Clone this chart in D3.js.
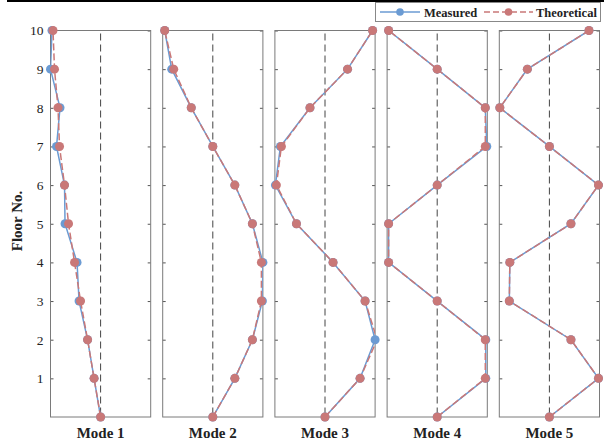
<!DOCTYPE html>
<html><head><meta charset="utf-8">
<script src="https://cdn.jsdelivr.net/npm/d3@7"></script>
<style>body{margin:0;background:#fff}svg{display:block}</style>
</head><body><svg id="c" width="604" height="441"></svg>
<script>
const floors = [0,1,2,3,4,5,6,7,8,9,10];
const modes = ["Mode 1","Mode 2","Mode 3","Mode 4","Mode 5"];
const yTicks = [1,2,3,4,5,6,7,8,9,10];
// values listed from floor 0 to floor 10
const measured = [
  [0,-0.13,-0.26,-0.43,-0.47,-0.71,-0.72,-0.88,-0.81,-1.0,-0.97],
  [0,0.44,0.79,0.99,1.0,0.79,0.44,0,-0.43,-0.82,-0.96],
  [0,0.70,1.0,0.80,0.16,-0.57,-0.99,-0.89,-0.30,0.45,0.95],
  [0,0.97,0.97,0,-0.97,-0.97,0,0.99,0.96,0,-0.97],
  [0,0.98,0.43,-0.80,-0.79,0.43,0.98,0,-0.99,-0.44,0.79]
];
const theoretical = [
  [0,-0.13,-0.26,-0.40,-0.52,-0.64,-0.72,-0.82,-0.85,-0.92,-0.95],
  [0,0.44,0.79,0.97,0.97,0.79,0.44,0,-0.43,-0.78,-0.96],
  [0,0.70,1.04,0.80,0.16,-0.57,-0.97,-0.87,-0.30,0.45,0.95],
  [0,0.96,0.96,0,-0.97,-0.97,0,0.96,0.96,0,-0.97],
  [0,0.98,0.43,-0.80,-0.79,0.43,0.98,0,-0.99,-0.44,0.79]
];
const seriesNames = ["Measured","Theoretical"];
const colors = {Measured:"#6b9bd3", Theoretical:"#c97878"};

const svg = d3.select("#c");
const serif = "'Liberation Serif','Times New Roman',serif";
svg.append("rect").attr("x",7).attr("y",0).attr("width",597).attr("height",2).attr("fill","#000");

const plotTop = 30.5, plotBottom = 417;
const y = d3.scaleLinear().domain([0,10]).range([plotBottom, plotTop]);
const panelX = d3.scaleBand().domain(modes).range([50.5, 599.5]).paddingInner(0.107);

modes.forEach((m, i) => {
  const x0 = panelX(m), w = panelX.bandwidth();
  const x = d3.scaleLinear().domain([-1,1]).range([x0, x0 + w]);
  const g = svg.append("g");
  const cid = "clip" + i;
  svg.append("clipPath").attr("id", cid).append("rect")
    .attr("x", x0).attr("y", plotTop).attr("width", w).attr("height", plotBottom - plotTop);

  const left = g.append("g").attr("transform", `translate(${x0},0)`)
    .call(d3.axisRight(y).tickValues(yTicks).tickSize(3).tickFormat(""));
  const right = g.append("g").attr("transform", `translate(${x0 + w},0)`)
    .call(d3.axisLeft(y).tickValues(yTicks).tickSize(3).tickFormat(""));
  [left, right].forEach(a => { a.select(".domain").remove(); a.selectAll("line").attr("stroke","#555"); });
  if (i === 0) {
    const lab = g.append("g").attr("transform", `translate(${x0},0)`)
      .call(d3.axisLeft(y).tickValues(yTicks).tickSize(0).tickPadding(7));
    lab.select(".domain").remove();
    lab.selectAll("text").attr("font-family", serif).attr("font-size", 13.5).attr("fill", "#222");
  }
  g.append("rect").attr("x", x0).attr("y", plotTop).attr("width", w).attr("height", plotBottom - plotTop)
    .attr("fill", "none").attr("stroke", "#7a7a7a").attr("stroke-width", 1);
  g.append("line").attr("x1", x(0)).attr("x2", x(0)).attr("y1", plotTop + 3).attr("y2", plotBottom)
    .attr("stroke", "#444").attr("stroke-width", 1).attr("stroke-dasharray", "7,4");

  const line = d3.line().x(d => x(d[0])).y(d => y(d[1]));
  [measured[i], theoretical[i]].forEach((vals, s) => {
    const name = seriesNames[s];
    const pts = vals.map((v, k) => [v, floors[k]]);
    g.append("path").datum(pts).attr("d", line).attr("fill", "none")
      .attr("clip-path", `url(#${cid})`)
      .attr("stroke", colors[name]).attr("stroke-width", 1.5)
      .attr("stroke-dasharray", s === 1 ? "7,3" : null);
    g.selectAll(null).data(pts.filter(p => Math.abs(p[0]) <= 1.001)).join("circle")
      .attr("cx", d => x(d[0])).attr("cy", d => y(d[1])).attr("r", 4.5)
      .attr("fill", colors[name]);
  });

  g.append("text").attr("x", x(0)).attr("y", 438).attr("text-anchor", "middle")
    .attr("font-family", serif).attr("font-weight", "bold").attr("font-size", 15)
    .attr("fill", "#222").text(m);
});

svg.append("text").attr("transform", "translate(22,221) rotate(-90)").attr("text-anchor", "middle")
  .attr("font-family", serif).attr("font-weight", "bold").attr("font-size", 15)
  .attr("fill", "#222").text("Floor No.");

const lg = svg.append("g");
lg.append("rect").attr("x", 375.5).attr("y", 2.5).attr("width", 225).attr("height", 19)
  .attr("fill", "#fff").attr("stroke", "#888");
const items = [
  {name:"Measured", x1:380, x2:420, tx:424, dash:null},
  {name:"Theoretical", x1:484, x2:533, tx:536, dash:"6,3"}
];
items.forEach(it => {
  lg.append("line").attr("x1", it.x1).attr("x2", it.x2).attr("y1", 12).attr("y2", 12)
    .attr("stroke", colors[it.name]).attr("stroke-width", 1.5).attr("stroke-dasharray", it.dash);
  lg.append("circle").attr("cx", (it.x1 + it.x2) / 2).attr("cy", 12).attr("r", 3.8).attr("fill", colors[it.name]);
  lg.append("text").attr("x", it.tx).attr("y", 16.5).attr("font-family", serif)
    .attr("font-weight", "bold").attr("font-size", 12.5).attr("fill", "#222").text(it.name);
});
</script></body></html>
